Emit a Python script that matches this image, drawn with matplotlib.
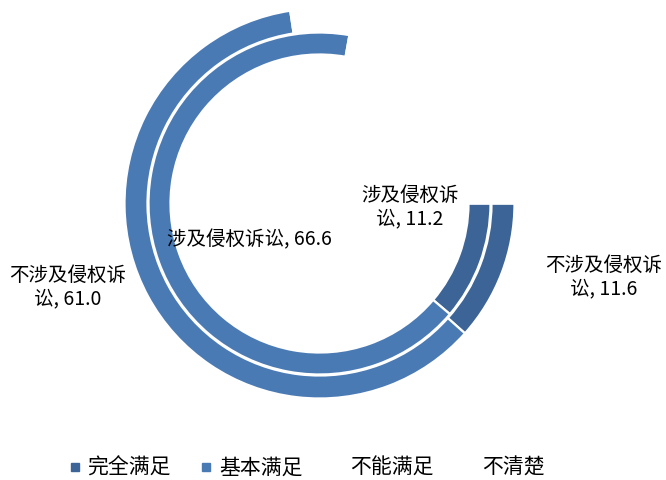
import matplotlib
matplotlib.use("Agg")
import matplotlib.pyplot as plt
from matplotlib.lines import Line2D

plt.rcParams['font.family'] = ['Noto Sans CJK SC', 'DejaVu Sans']

categories = ["完全满足", "基本满足", "不能满足", "不清楚"]
# outer ring: 不涉及侵权诉讼, inner ring: 涉及侵权诉讼 (last two slices are drawn white)
outer_vals = [11.6, 61.0, 14.9, 12.5]
inner_vals = [11.2, 66.6, 12.0, 10.2]
outer_name = "不涉及侵权诉讼"
inner_name = "涉及侵权诉讼"
colors = ["#3C6496", "#4A7AB4", "#FFFFFF", "#FFFFFF"]

W, H = 666, 480
fig = plt.figure(figsize=(W / 100, H / 100), dpi=100)
cx, cy = 319.5, 203.5   # ring centre in pixels (from top-left)
ax = fig.add_axes([(cx - 200) / W, (H - cy - 200) / H, 400 / W, 400 / H])

wp = dict(edgecolor="white", linewidth=1.6)
ax.pie(outer_vals, radius=195, colors=colors, startangle=0, counterclock=False,
       wedgeprops=dict(width=23, **wp))
ax.pie(inner_vals, radius=171, colors=colors, startangle=0, counterclock=False,
       wedgeprops=dict(width=22, **wp))
ax.set_xlim(-200, 200)
ax.set_ylim(-200, 200)
ax.set_aspect("equal")
ax.axis("off")


def fx(px):
    return px / W


def fy(py):
    return 1 - py / H


fs = 14
fig.text(fx(249), fy(240), f"{inner_name}, {inner_vals[1]:.1f}", fontsize=fs,
         ha="center", va="center")
fig.text(fx(410), fy(207), f"{inner_name[:5]}\n{inner_name[5:]}, {inner_vals[0]:.1f}",
         fontsize=fs, ha="center", va="center", linespacing=1.15)
fig.text(fx(604), fy(277), f"{outer_name[:6]}\n{outer_name[6:]}, {outer_vals[0]:.1f}",
         fontsize=fs, ha="center", va="center", linespacing=1.15)
fig.text(fx(68), fy(287), f"{outer_name[:6]}\n{outer_name[6:]}, {outer_vals[1]:.1f}",
         fontsize=fs, ha="center", va="center", linespacing=1.15)

handles = [Line2D([], [], marker="s", linestyle="none", markersize=5.5,
                  markerfacecolor=c, markeredgecolor=c) for c in colors]
fig.legend(handles, categories, loc="center", bbox_to_anchor=(fx(307), fy(468)),
           ncol=4, frameon=False, fontsize=15, handlelength=0.5, handletextpad=0.35,
           columnspacing=1.45, borderpad=0)

fig.savefig("out.png", dpi=100)
